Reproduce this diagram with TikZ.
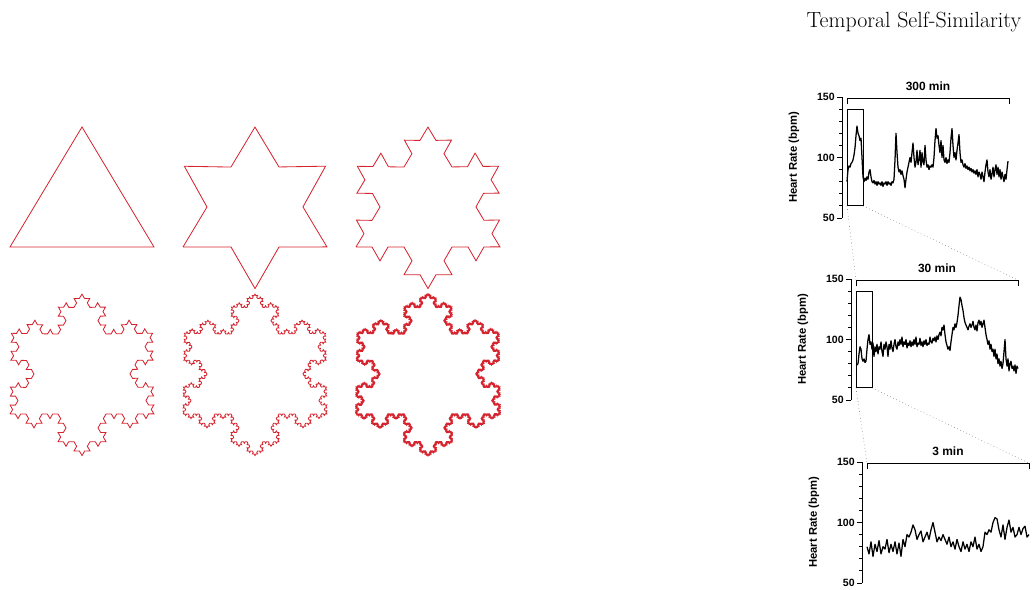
\documentclass[tikz,border=0pt]{standalone}
\usepackage{fontspec}
\setsansfont{Liberation Sans}
\usepackage{tikz}
\usetikzlibrary{decorations.fractals,positioning}
\usepackage{xcolor}
\definecolor{kochred}{RGB}{214,36,46}
\definecolor{zoomgray}{RGB}{110,110,110}

\begin{document}
\begin{tikzpicture}[
  x=0.025cm, y=-0.025cm,
  decoration=Koch snowflake,
  flake/.style={draw=kochred, line width=0.6pt, line join=miter},
  hrtrace/.style={line width=0.9pt, line join=round},
  hraxis/.style={line width=0.6pt},
  ticklbl/.style={font=\sffamily\bfseries\fontsize{7.5}{9}\selectfont, anchor=east, inner sep=1pt},
  ylbl/.style={font=\sffamily\bfseries\fontsize{8}{10}\selectfont, rotate=90},
  spanlbl/.style={font=\sffamily\bfseries\fontsize{8.5}{10}\selectfont, anchor=base},
  zoomline/.style={zoomgray, line width=0.4pt, dotted},
]
\useasboundingbox (0,0) rectangle (1034,590);

\def\ra{247}  % row 1 base
\def\rb{414}  % row 2 base

%% --- Koch snowflake, steps 0 to 5 ---
\draw[flake] (10,\ra) -- (82,127) -- (154,\ra) -- cycle;
\draw[flake] decorate{(183,\ra) -- (255,127) -- (327,\ra) -- (183,\ra)};
\draw[flake] decorate{decorate{(356,\ra) -- (428,127) -- (500,\ra) -- (356,\ra)}};
\draw[flake] decorate{decorate{decorate{(10,\rb) -- (82,294) -- (154,\rb) -- (10,\rb)}}};
\draw[flake] decorate{decorate{decorate{decorate{(183,\rb) -- (255,294) -- (327,\rb) -- (183,\rb)}}}};
\draw[flake, line width=0.95pt] decorate{decorate{decorate{decorate{decorate{(356,\rb) -- (428,294) -- (500,\rb) -- (356,\rb)}}}}};

%% --- Title ---
\node[font=\fontsize{15.6}{18}\selectfont, anchor=base] (title) at (914,28) {Temporal Self-Similarity};

%% --- Axes, span brackets ---
\foreach \n/\ax/\ay/\len in {1/842/278.5/300 min, 2/851/460.5/30 min, 3/862/643.5/3 min}{
  \begin{scope}[shift={(\ax,\ay)}, yscale=-1.21]
    \draw[hraxis] (0,150) -- (0,50);
    \foreach \b in {60,70,...,140} \draw[hraxis] (0,\b) -- (-3,\b);
    \foreach \b in {50,100,150} \draw[hraxis] (0,\b) -- (-5.5,\b) node[ticklbl] (tk\n-\b) {\b};
    \node[ylbl] (yl\n) at (-48,100) {Heart Rate (bpm)};
    \coordinate (br\n-w) at (5,149);
    \coordinate (br\n-e) at (167,149);
    \draw[hraxis] (5,144) -- (br\n-w) -- (br\n-e) -- (167,144);
    \node[spanlbl] (sp\n) at (86,155) {\len};
  \end{scope}
}

%% --- Chart 1: 300 min ---
\begin{scope}[shift={(842,278.5)}, yscale=-1.21]
  \draw[hraxis] (5,60) rectangle (21,140);
  \coordinate (bx1-sw) at (5,60);
  \coordinate (bx1-se) at (21,60);
  \draw[hrtrace] plot coordinates {(5,80) (6,90) (7,93) (8,92) (9,95) (10,96) (11,98) (12,102) (13,108) (14,118) (15,126) (16,120) (17,118) (18,114) (19,116) (20,100) (21,84) (22,80) (23,83) (24,81) (25,84) (26,82) (27,88) (28,90) (29,84) (30,80) (31,79) (32,81) (33,78) (34,80) (35,77) (36,80) (37,78) (38,79) (39,77) (40,80) (41,76) (42,79) (43,78) (44,80) (45,77) (46,80) (47,78) (48,79) (49,77) (50,80) (51,79) (52,82) (53,98) (54,120) (55,104) (56,92) (57,88) (58,90) (59,86) (60,89) (61,85) (62,82) (63,75) (64,82) (65,88) (66,92) (67,96) (68,100) (69,96) (70,104) (71,112) (72,100) (73,92) (74,96) (75,106) (76,94) (77,98) (78,106) (79,92) (80,104) (81,96) (82,94) (83,110) (84,98) (85,92) (86,94) (87,90) (88,93) (89,92) (90,94) (91,92) (92,100) (93,114) (94,124) (95,116) (96,118) (97,110) (98,104) (99,114) (100,100) (101,110) (102,98) (103,96) (104,100) (105,95) (106,98) (107,96) (108,104) (109,116) (110,124) (111,110) (112,100) (113,104) (114,98) (115,106) (116,112) (117,119) (118,104) (119,96) (120,98) (121,94) (122,92) (123,95) (124,91) (125,93) (126,90) (127,92) (128,89) (129,91) (130,88) (131,90) (132,87) (133,89) (134,86) (135,90) (136,84) (137,88) (138,86) (139,82) (140,88) (141,84) (142,80) (143,88) (144,94) (145,98) (146,88) (147,84) (148,90) (149,82) (150,86) (151,92) (152,84) (153,90) (154,94) (155,86) (156,92) (157,84) (158,90) (159,82) (160,88) (161,84) (162,80) (163,86) (164,82) (165,90) (166,97)};
\end{scope}

%% --- Chart 2: 30 min ---
\begin{scope}[shift={(851,460.5)}, yscale=-1.21]
  \draw[hraxis] (5,60) rectangle (21,140);
  \coordinate (bx2-sw) at (5,60);
  \coordinate (bx2-se) at (21,60);
  \draw[hrtrace] plot coordinates {(6,79) (7,80) (8,88) (9,94) (10,92) (11,84) (12,82) (13,84) (14,81) (15,82) (16,92) (17,100) (18,104) (19,96) (20,98) (21,92) (22,97) (23,86) (24,94) (25,90) (26,96) (27,88) (28,94) (29,92) (30,98) (31,90) (32,86) (33,96) (34,92) (35,98) (36,94) (37,86) (38,96) (39,92) (40,99) (41,93) (42,90) (43,96) (44,100) (45,94) (46,92) (47,98) (48,95) (49,100) (50,96) (51,102) (52,94) (53,98) (54,96) (55,100) (56,93) (57,97) (58,95) (59,99) (60,94) (61,98) (62,95) (63,100) (64,96) (65,102) (66,94) (67,97) (68,96) (69,101) (70,95) (71,98) (72,94) (73,99) (74,96) (75,100) (76,95) (77,97) (78,96) (79,102) (80,98) (81,97) (82,101) (83,99) (84,102) (85,98) (86,103) (87,100) (88,104) (89,106) (90,103) (91,110) (92,108) (93,112) (94,104) (95,98) (96,95) (97,92) (98,94) (99,91) (100,98) (101,104) (102,110) (103,108) (104,113) (105,110) (106,114) (107,120) (108,128) (109,135) (110,133) (111,128) (112,124) (113,118) (114,114) (115,112) (116,110) (117,108) (118,111) (119,113) (120,110) (121,112) (122,115) (123,110) (124,108) (125,112) (126,107) (127,114) (128,116) (129,112) (130,115) (131,110) (132,113) (133,116) (134,110) (135,104) (136,100) (137,96) (138,99) (139,92) (140,96) (141,90) (142,92) (143,86) (144,92) (145,84) (146,88) (147,80) (148,84) (149,78) (150,82) (151,76) (152,80) (153,90) (154,100) (155,84) (156,78) (157,84) (158,74) (159,80) (160,82) (161,76) (162,78) (163,74) (164,79) (165,72) (166,78) (167,76)};
\end{scope}

%% --- Chart 3: 3 min ---
\begin{scope}[shift={(862,643.5)}, yscale=-1.21]
  \draw[hrtrace] plot coordinates {(5,80) (7,74) (9,84) (11,72) (13,82) (15,76) (17,85) (19,74) (21,80) (23,78) (25,86) (27,75) (29,82) (31,76) (33,84) (35,74) (37,83) (39,72) (41,86) (43,80) (45,90) (47,88) (49,92) (51,98) (53,94) (55,86) (57,90) (59,93) (61,84) (63,88) (65,92) (67,86) (69,94) (71,100) (73,92) (75,84) (77,88) (79,85) (81,90) (83,86) (85,82) (87,88) (89,80) (91,84) (93,78) (95,86) (97,80) (99,76) (101,84) (103,78) (105,82) (107,76) (109,84) (111,80) (113,88) (115,78) (117,82) (119,76) (121,80) (123,92) (125,90) (127,94) (129,92) (131,100) (133,104) (135,103) (137,94) (139,88) (141,98) (143,86) (145,96) (147,102) (149,92) (151,96) (153,88) (155,90) (157,96) (159,90) (161,95) (163,97) (165,88) (167,90)};
\end{scope}

%% --- Zoom lines ---
\draw[zoomline] (bx1-sw) -- (br2-w);
\draw[zoomline] (bx1-se) -- (br2-e);
\draw[zoomline] (bx2-sw) -- (br3-w);
\draw[zoomline] (bx2-se) -- (br3-e);

\end{tikzpicture}
\end{document}
